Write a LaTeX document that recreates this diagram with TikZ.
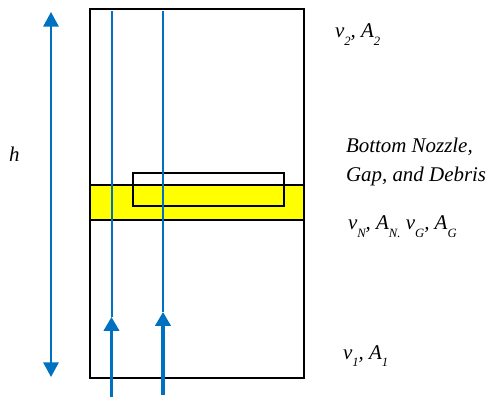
\documentclass[tikz,border=0pt]{standalone}
\usepackage{fontspec}
\setmainfont{Liberation Serif}
\usetikzlibrary{arrows.meta}
\definecolor{cblue}{HTML}{0070C0}
\definecolor{cyellow}{HTML}{FFFF00}
\newcommand{\sbs}[1]{\raisebox{-5.5pt}{\fontsize{9.5}{12}\selectfont #1}}
\tikzset{
  every picture/.style={line width=1.5pt},
  wall/.style={draw=black, line width=1.5pt},
  flow/.style={draw=cblue, line width=1.5pt},
  inlet/.style={-{Triangle[length=10.5pt, width=11.5pt]}, draw=cblue, fill=cblue, line width=2.4pt},
  height/.style={{Triangle[length=11pt, width=11.5pt]}-{Triangle[length=11pt, width=11.5pt]}, draw=cblue, line width=1.5pt},
  label/.style={anchor=base west, inner sep=0pt, font=\itshape\fontsize{15.7}{18}\selectfont},
}
\begin{document}
\begin{tikzpicture}[x=0.75pt, y=-0.75pt]
  \useasboundingbox (0,0) rectangle (486,399);
  % tube, band and inner box
  \draw[wall] (90,9.5) rectangle (304,378);
  \draw[wall, fill=cyellow] (90,185) rectangle (304,220);
  \draw[wall] (133,173) rectangle (284,206);
  % flow lines
  \coordinate (topa) at (111.5,11);
  \coordinate (heada) at (111.5,317);
  \coordinate (basea) at (111.5,397);
  \coordinate (topb) at (163,11);
  \coordinate (headb) at (163,312);
  \coordinate (baseb) at (163,395);
  \draw[flow] (heada) -- (topa);
  \draw[flow] (headb) -- (topb);
  \draw[inlet] (basea) -- (heada);
  \draw[inlet] (baseb) -- (headb);
  % height
  \coordinate (hitop) at (51,12);
  \coordinate (hibot) at (51,377);
  \draw[height] (hibot) -- (hitop);
  % labels
  \node[label] (hlab) at (8,162) {h};
  \node[label] (top) at (334,38) {v\sbs{2}, A\sbs{2}};
  \node[label] (nozzle) at (345,153) {Bottom Nozzle,};
  \node[label] (gap) at (345,182) {Gap, and Debris};
  \node[label] (mid) at (347,230) {v\sbs{N}, A\sbs{N.} v\sbs{G}, A\sbs{G}};
  \node[label] (bot) at (342,359) {v\sbs{1}, A\sbs{1}};
\end{tikzpicture}
\end{document}
